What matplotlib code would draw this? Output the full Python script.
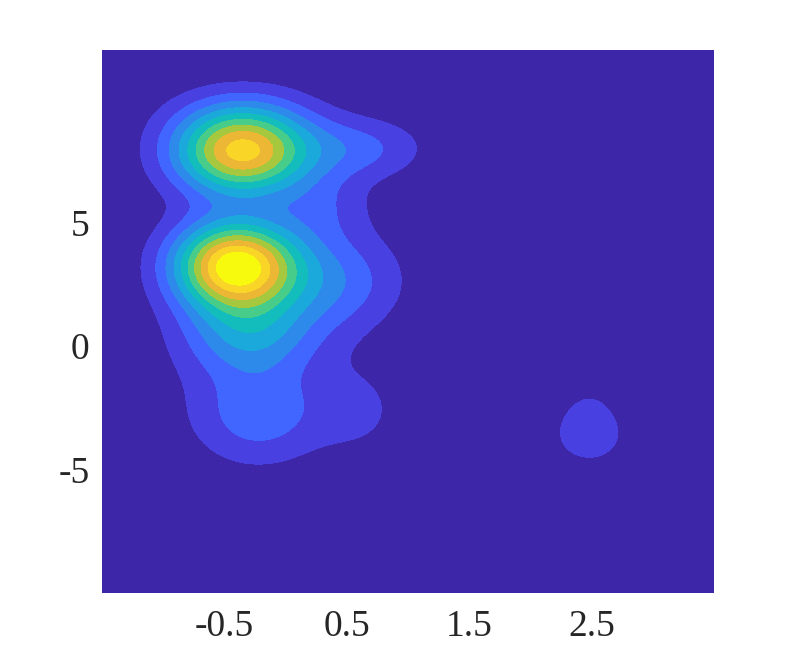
import numpy as np
import matplotlib
matplotlib.use("Agg")
import matplotlib.pyplot as plt

# density bumps: centre, spread and weight of each
comp_x = [-0.42, 0.30, -0.30, -0.22, -0.25, 0.45, 0.60, -0.36, -0.30, 0.60, 0.30, 2.48, 2.48]
comp_y = [3.25, 2.90, 0.50, -2.80, -2.20, 2.20, -2.60, 7.91, 9.60, 8.00, 5.70, -3.00, -3.80]
comp_sx = [0.35, 0.45, 0.38, 0.33, 0.55, 0.35, 0.28, 0.39, 0.50, 0.38, 0.28, 0.25, 0.28]
comp_sy = [1.25, 1.50, 1.20, 1.30, 2.10, 1.30, 1.30, 1.25, 0.90, 0.90, 1.00, 1.50, 0.80]
comp_w = [1.03, 0.20, 0.33, 0.17, 0.10, 0.08, 0.10, 0.93, 0.05, 0.21, 0.13, 0.11, 0.05]

levels = [-1.0, 0.1, 0.2, 0.3, 0.4, 0.5, 0.6, 0.7, 0.8, 0.9, 1.0, 5.0]
fill_colors = ["#3E26A8", "#4840E0", "#4066FF", "#2D8AEB", "#1BA9DC",
               "#13BDBC", "#48CC8A", "#A5C83E", "#EBB734", "#F9D528",
               "#F8FA0D"]

x_ticks = [-0.5, 0.5, 1.5, 2.5]
y_ticks = [-5, 0, 5]

gx = np.linspace(-1.5, 3.5, 500)
gy = np.linspace(-10, 12, 500)
X, Y = np.meshgrid(gx, gy)
Z = np.zeros_like(X)
for cx, cy, sx, sy, w in zip(comp_x, comp_y, comp_sx, comp_sy, comp_w):
    Z += w * np.exp(-0.5 * (((X - cx) / sx) ** 2 + ((Y - cy) / sy) ** 2))

plt.rcParams["font.family"] = ["Liberation Serif", "DejaVu Serif"]

fig = plt.figure(figsize=(7.89, 6.66), dpi=100)
ax = fig.add_axes([0.1293, 0.110, 0.7757, 0.815])
ax.contourf(X, Y, Z, levels=levels, colors=fill_colors)
ax.set_xlim(-1.5, 3.5)
ax.set_ylim(-10, 12)
ax.set_xticks(x_ticks)
ax.set_xticklabels([f"{v:g}" for v in x_ticks])
ax.set_yticks(y_ticks)
ax.set_yticklabels([f"{v:g}" for v in y_ticks])
ax.tick_params(length=0, labelsize=27, labelcolor="#262626")
ax.tick_params(axis="x", pad=12)
ax.tick_params(axis="y", pad=9)
for s in ax.spines.values():
    s.set_visible(False)

fig.savefig("out.png", dpi=100)
